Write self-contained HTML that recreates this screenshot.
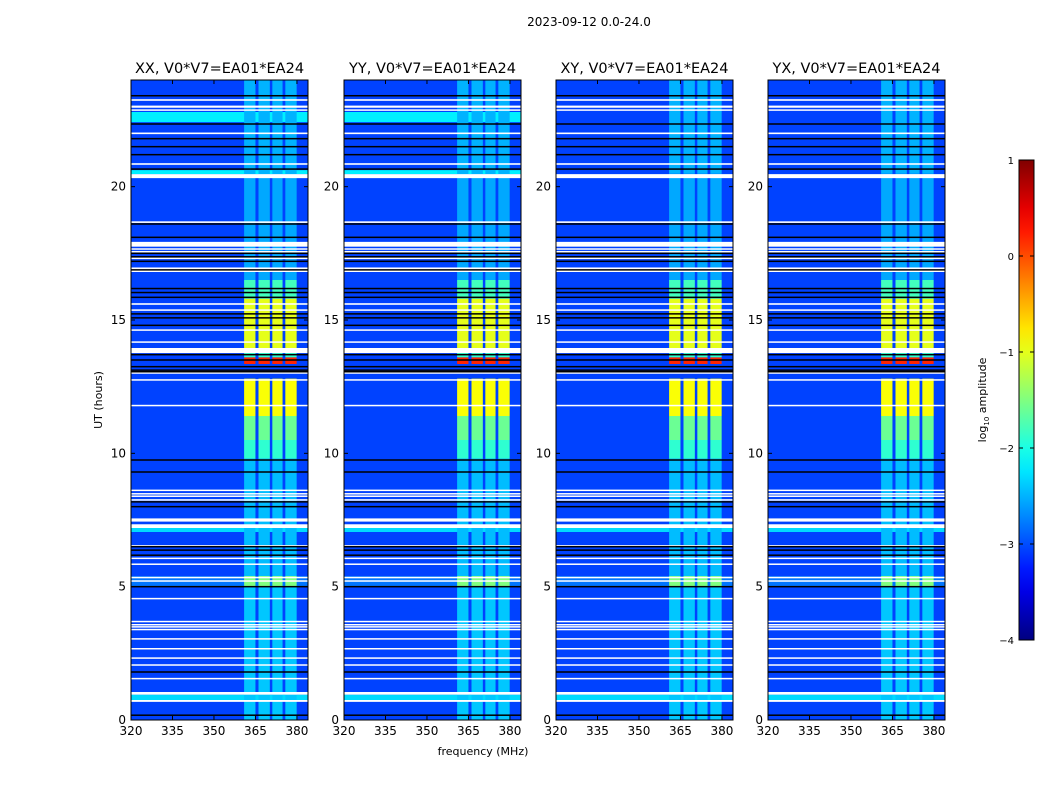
<!DOCTYPE html>
<html><head><meta charset="utf-8">
<style>
body{margin:0;background:#fff;}
svg{display:block;font-family:"DejaVu Sans","Liberation Sans",sans-serif;}
</style></head>
<body>
<svg id="fig" width="1050" height="800" viewBox="0 0 1050 800">
<text x="589" y="26" font-size="12" text-anchor="middle">2023-09-12 0.0-24.0</text>
<text x="483" y="755" font-size="11" text-anchor="middle">frequency (MHz)</text>
<text transform="translate(102,400) rotate(-90)" font-size="11" text-anchor="middle">UT (hours)</text>
<text transform="translate(986,400) rotate(-90)" font-size="11" text-anchor="middle">log<tspan font-size="7" dy="3">10</tspan><tspan dy="-3"> amplitude</tspan></text>
<g id="panels"></g>
<g id="cbar"></g>
</svg>
<script>
// ---- data ----
const panelTitles = ["XX, V0*V7=EA01*EA24","YY, V0*V7=EA01*EA24","XY, V0*V7=EA01*EA24","YX, V0*V7=EA01*EA24"];
const freqTicks = [320,335,350,365,380];
const hourTicks = [0,5,10,15,20];
const bgLevel = -3.05;
// broadband bands: [h0,h1,level, panelMask]
const broadBands = [[22.42,22.8,-2.2,"1100"],[20.47,20.62,-2.2,"1100"],[7.05,7.2,-2.3,"1111"],[0.75,0.95,-2.3,"1111"],[5.0,5.4,-2.8,"1111"]];
// RFI frequency columns (MHz)
const rfiCols = [[360.9,365.0],[366.1,370.2],[371.1,374.8],[375.8,379.9]];
// RFI intensity vs time: [h0,h1,level]
const rfiLevels = [[0,5,-2.4],[5,5.4,-1.5],[5.4,9.8,-2.45],[9.8,10.5,-1.9],[10.5,11.4,-1.6],[11.4,12.8,-0.9],[13.35,13.6,0.2],[13.6,13.8,-1.9],[13.8,15.8,-1.0],[15.8,16.5,-1.8],[16.5,20.5,-2.55],[20.5,24,-2.5]];
// flagged rows (white) [h0,h1]
const whiteRows = [[23.22,23.28],[22.96,23.04],[22.86,22.9],[21.97,22.03],[20.82,20.88],[20.32,20.47],[18.64,18.7],[17.75,17.93],[17.65,17.69],[17.55,17.59],[17.3,17.34],[16.8,16.97],[15.57,15.63],[15.35,15.4],[14.6,14.65],[14.15,14.2],[13.76,13.95],[13.0,13.04],[12.75,12.78],[11.78,11.82],[8.6,8.64],[8.47,8.51],[8.38,8.42],[8.24,8.28],[7.44,7.56],[7.2,7.34],[6.52,6.56],[6.05,6.09],[5.83,5.87],[5.33,5.37],[5.2,5.24],[4.54,4.58],[3.68,3.72],[3.56,3.6],[3.48,3.52],[3.38,3.42],[3.03,3.07],[2.66,2.7],[2.31,2.35],[2.05,2.09],[1.54,1.58],[0.95,1.05],[0.68,0.75]];
// black rows (hours)
const blackRows = [23.41,22.35,21.8,21.5,21.2,20.66,18.6,18.1,17.5,17.37,17.2,16.88,16.18,16.03,15.85,15.23,15.08,14.8,13.7,13.5,13.25,13.12,13.06,9.75,9.3,8.18,8.0,6.5,6.37,6.18,5.0,1.8,0.18];
// colorbar ticks
const cbTicks = [1,0,-1,-2,-3,-4];

// ---- layout ----
const panelX = [131,344,556,768], panelW = 177, plotTop = 80, plotBot = 720;
const fmin = 320, fmax = 384, hmax = 24;
const NS = "http://www.w3.org/2000/svg";
function jet(v){
  const t = Math.max(0,Math.min(1,(v+4)/5));
  const c = x=>Math.round(255*Math.max(0,Math.min(1,x)));
  return `rgb(${c(1.5-Math.abs(4*t-3))},${c(1.5-Math.abs(4*t-2))},${c(1.5-Math.abs(4*t-1))})`;
}
function mk(tag, attrs, parent){const e=document.createElementNS(NS,tag);for(const k in attrs)e.setAttribute(k,attrs[k]);parent.appendChild(e);return e;}
const yOf = h => plotBot - (h/hmax)*(plotBot-plotTop);

const panelsG = document.getElementById('panels');
panelTitles.forEach((title,p)=>{
  const x0 = panelX[p];
  const xOf = f => x0 + (f-fmin)/(fmax-fmin)*panelW;
  const g = mk('g',{},panelsG);
  
  
  const bg = mk('rect',{x:x0,y:plotTop,width:panelW,height:plotBot-plotTop,fill:jet(bgLevel)},g);
  
  
  broadBands.forEach(b=>{
    if(b[3][p]!=='1') return;
    const r = mk('rect',{x:x0,y:yOf(b[1]),width:panelW,height:yOf(b[0])-yOf(b[1]),fill:jet(b[2])},g);
    
    
  });
  rfiLevels.forEach(l=>{
    rfiCols.forEach(c=>{
      const r = mk('rect',{x:xOf(c[0]),y:yOf(l[1]),width:xOf(c[1])-xOf(c[0]),height:yOf(l[0])-yOf(l[1]),fill:jet(l[2])},g);
      
      
    });
  });
  whiteRows.forEach(w=>{
    const r = mk('rect',{x:x0,y:yOf(w[1]),width:panelW,height:Math.max(1.5,yOf(w[0])-yOf(w[1])),fill:'#fff'},g);
    
    
  });
  blackRows.forEach(h=>{
    const r = mk('rect',{x:x0,y:yOf(h)-0.75,width:panelW,height:1.5,fill:'#000'},g);
    
    
  });
  const fr = mk('rect',{x:x0,y:plotTop,width:panelW,height:plotBot-plotTop,fill:'none',stroke:'#000','stroke-width':1},g);
  
  
  const tt = mk('text',{x:x0+panelW/2,y:plotTop-7,'font-size':14.5,'text-anchor':'middle'},g);
  tt.textContent = title;
  
  
  freqTicks.forEach(f=>{
    const x = xOf(f);
    mk('line',{x1:x,x2:x,y1:plotBot,y2:plotBot-4,stroke:'#000'},g);
    mk('line',{x1:x,x2:x,y1:plotTop,y2:plotTop+4,stroke:'#000'},g);
    const t = mk('text',{x:x,y:plotBot+15,'font-size':12,'text-anchor':'middle'},g);
    t.textContent = f;
    
    
  });
  hourTicks.forEach(h=>{
    const y = yOf(h);
    mk('line',{x1:x0,x2:x0+4,y1:y,y2:y,stroke:'#000'},g);
    mk('line',{x1:x0+panelW,x2:x0+panelW-4,y1:y,y2:y,stroke:'#000'},g);
    const t = mk('text',{x:x0-5,y:y+4,'font-size':12,'text-anchor':'end'},g);
    t.textContent = h;
    
    
  });
});

// colorbar
const cb = document.getElementById('cbar');
const cbX = 1019, cbW = 15, cbTop = 160, cbBot = 640;
const defs = mk('defs',{},cb);
const grad = mk('linearGradient',{id:'jetg',x1:0,y1:1,x2:0,y2:0},defs);
for(let i=0;i<=20;i++){ mk('stop',{offset:(i/20),'stop-color':jet(-4+5*i/20)},grad); }
const cbr = mk('rect',{x:cbX,y:cbTop,width:cbW,height:cbBot-cbTop,fill:'url(#jetg)',stroke:'#000','stroke-width':1},cb);


cbTicks.forEach(v=>{
  const y = cbBot - (v+4)/5*(cbBot-cbTop);
  mk('line',{x1:cbX,x2:cbX+4,y1:y,y2:y,stroke:'#000'},cb);
  mk('line',{x1:cbX+cbW,x2:cbX+cbW-4,y1:y,y2:y,stroke:'#000'},cb);
  const t = mk('text',{x:cbX-5,y:y+4,'font-size':10,'text-anchor':'end'},cb);
  t.textContent = v<0 ? '\u2212'+Math.abs(v) : v;
  
  
});
</script>
</body></html>
